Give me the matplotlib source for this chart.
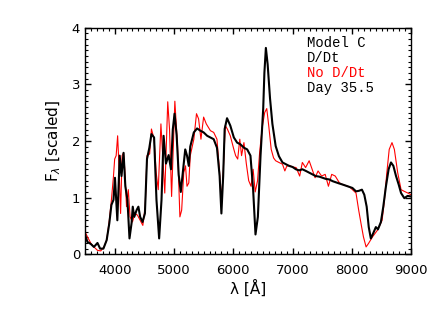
import numpy as np
import matplotlib
matplotlib.use('Agg')
import matplotlib.pyplot as plt
from matplotlib.ticker import MultipleLocator

# Model C, day 35.5 -- with D/Dt (black) and without (red)
wave_dd = [3500, 3540, 3600, 3650, 3710, 3755, 3810, 3865, 3910, 3945, 3980, 4005,
           4045, 4085, 4115, 4150, 4180, 4215, 4250, 4285, 4305, 4330, 4370, 4400,
           4430, 4470, 4510, 4545, 4585, 4620, 4665, 4705, 4750, 4790, 4825, 4865,
           4910, 4950, 4980, 5010, 5045, 5080, 5115, 5160, 5190, 5220, 5250, 5275,
           5335, 5390, 5445, 5500, 5560, 5615, 5670, 5725, 5770, 5800, 5830, 5855,
           5895, 5950, 6010, 6065, 6120, 6180, 6235, 6290, 6335, 6375, 6415, 6460,
           6505, 6525, 6550, 6580, 6620, 6660, 6715, 6770, 6830, 6885, 6940, 7000,
           7055, 7110, 7165, 7225, 7280, 7335, 7390, 7450, 7505, 7560, 7620, 7675,
           7730, 7785, 7845, 7900, 7955, 8010, 8070, 8120, 8170, 8210, 8250, 8285,
           8320, 8360, 8405, 8440, 8490, 8530, 8575, 8620, 8660, 8700, 8745, 8790,
           8830, 8885, 8940, 9000]
flux_dd = [0.35, 0.22, 0.18, 0.13, 0.20, 0.10, 0.10, 0.25, 0.55, 0.87, 0.96, 1.35,
           0.60, 1.74, 1.38, 1.79, 1.20, 0.96, 0.28, 0.55, 0.84, 0.66, 0.78, 0.84,
           0.66, 0.57, 0.72, 1.68, 1.88, 2.12, 2.06, 0.96, 0.28, 0.96, 2.09, 1.60,
           1.75, 1.50, 2.20, 2.48, 2.10, 1.40, 1.10, 1.55, 1.85, 1.74, 1.56, 1.90,
           2.15, 2.22, 2.18, 2.15, 2.09, 2.06, 2.03, 1.88, 1.38, 0.72, 1.38, 2.21,
           2.40, 2.27, 2.06, 1.97, 1.94, 1.88, 1.85, 1.74, 1.14, 0.35, 0.66, 1.74,
           2.57, 3.20, 3.64, 3.35, 2.75, 2.30, 1.91, 1.73, 1.62, 1.59, 1.56, 1.54,
           1.50, 1.48, 1.50, 1.47, 1.44, 1.41, 1.38, 1.37, 1.35, 1.33, 1.32, 1.29,
           1.27, 1.25, 1.23, 1.21, 1.19, 1.17, 1.11, 1.12, 1.14, 1.05, 0.84, 0.48,
           0.28, 0.37, 0.48, 0.44, 0.57, 0.84, 1.20, 1.50, 1.62, 1.56, 1.38, 1.23,
           1.08, 0.99, 1.03, 1.02]

wave_nodd = [3500, 3540, 3600, 3650, 3710, 3765, 3820, 3865, 3910, 3945, 3980, 4000,
             4025, 4050, 4075, 4100, 4125, 4150, 4170, 4200, 4230, 4260, 4300, 4340,
             4385, 4430, 4475, 4515, 4545, 4590, 4620, 4665, 4700, 4735, 4780, 4810,
             4845, 4895, 4925, 4960, 5015, 5060, 5100, 5130, 5165, 5195, 5220, 5250,
             5275, 5335, 5380, 5415, 5455, 5500, 5545, 5615, 5670, 5725, 5770, 5795,
             5825, 5865, 5900, 5950, 6010, 6040, 6075, 6110, 6140, 6180, 6220, 6260,
             6300, 6335, 6370, 6410, 6445, 6490, 6530, 6565, 6600, 6640, 6680, 6715,
             6770, 6830, 6870, 6900, 6940, 7000, 7060, 7120, 7165, 7220, 7280, 7330,
             7380, 7430, 7490, 7550, 7605, 7660, 7720, 7790, 7845, 7960, 8070, 8115,
             8155, 8195, 8240, 8280, 8350, 8435, 8510, 8550, 8590, 8630, 8677, 8717,
             8773, 8830, 8885, 8945, 9000]
flux_nodd = [0.40, 0.31, 0.19, 0.13, 0.07, 0.06, 0.13, 0.25, 0.60, 0.96, 1.38, 1.68,
             1.74, 2.09, 1.50, 0.72, 1.74, 1.79, 1.50, 0.84, 1.14, 0.66, 0.57, 0.72,
             0.69, 0.60, 0.51, 0.84, 1.74, 1.77, 2.21, 2.03, 1.44, 1.14, 2.30, 1.74,
             1.08, 2.69, 2.21, 1.02, 2.70, 1.91, 0.66, 0.78, 1.44, 1.56, 1.20, 1.26,
             1.74, 2.03, 2.48, 2.39, 2.03, 2.42, 2.30, 2.18, 2.15, 2.03, 1.44, 0.96,
             1.32, 2.27, 2.21, 2.09, 1.85, 1.74, 1.68, 2.03, 1.74, 1.97, 1.60, 1.30,
             1.20, 1.50, 1.10, 1.30, 1.80, 2.25, 2.50, 2.57, 2.25, 1.85, 1.70, 1.65,
             1.62, 1.59, 1.47, 1.55, 1.57, 1.54, 1.53, 1.38, 1.62, 1.53, 1.65, 1.50,
             1.35, 1.47, 1.38, 1.41, 1.20, 1.41, 1.38, 1.26, 1.23, 1.19, 1.08, 0.78,
             0.54, 0.31, 0.13, 0.19, 0.31, 0.43, 0.60, 0.96, 1.44, 1.85, 1.97, 1.85,
             1.44, 1.14, 1.11, 1.08, 1.05]

labels = ['Model C', 'D/Dt', 'No D/Dt', 'Day 35.5']
label_colors = ['black', 'black', 'red', 'black']

plt.rcParams['font.family'] = 'DejaVu Sans'

fig = plt.figure(figsize=(4.36, 3.09), dpi=100)
ax = fig.add_axes([0.195, 0.177, 0.748, 0.734])

ax.plot(wave_nodd, flux_nodd, color='red', lw=0.8)
ax.plot(wave_dd, flux_dd, color='black', lw=1.5)

ax.set_xlim(3500, 9000)
ax.set_ylim(0, 4)
ax.xaxis.set_major_locator(MultipleLocator(1000))
ax.xaxis.set_minor_locator(MultipleLocator(100))
ax.yaxis.set_major_locator(MultipleLocator(1))
ax.yaxis.set_minor_locator(MultipleLocator(0.1))
ax.tick_params(which='both', direction='in', top=True, right=True, labelsize=9.5)
ax.tick_params(axis='x', which='major', pad=7)
ax.tick_params(which='major', length=4, width=1)
ax.tick_params(which='minor', length=2, width=0.8)
for sp in ax.spines.values():
    sp.set_linewidth(1)

ax.set_xlabel(u'\u03bb [\u00c5]', fontsize=11, labelpad=2)
ax.set_ylabel(r'F$_\lambda$ [scaled]', fontsize=11, labelpad=6)

for i, (t, c) in enumerate(zip(labels, label_colors)):
    ax.text(0.68, 0.93 - i * 0.066, t, color=c, transform=ax.transAxes,
            family='Liberation Mono', fontsize=10, va='center', ha='left')

plt.savefig('out.png', dpi=100)
